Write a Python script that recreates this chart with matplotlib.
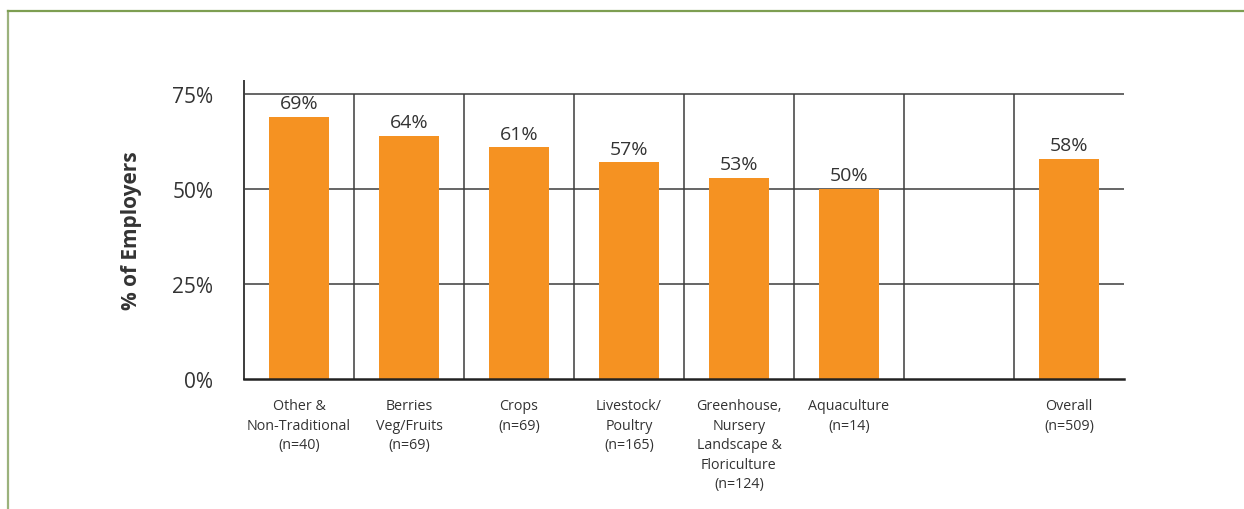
import matplotlib.pyplot as plt
from matplotlib.lines import Line2D

plt.rcParams.update({
    "font.family": ["Open Sans", "DejaVu Sans"],
    "text.color": "#333333",
})

CATEGORIES = [
    "Other &\nNon-Traditional\n(n=40)",
    "Berries\nVeg/Fruits\n(n=69)",
    "Crops\n(n=69)",
    "Livestock/\nPoultry\n(n=165)",
    "Greenhouse,\nNursery\nLandscape &\nFloriculture\n(n=124)",
    "Aquaculture\n(n=14)",
    "",
    "Overall\n(n=509)",
]
VALUES = [69, 64, 61, 57, 53, 50, None, 58]
Y_TICKS = [0, 25, 50, 75]
Y_TICK_LABELS = ["0%", "25%", "50%", "75%"]

BAR_COLOR = "#F59222"
LINE_COLOR = "#3c3c3c"
FRAME_COLOR = "#7d9e52"

fig = plt.figure(figsize=(12.44, 5.10), dpi=100)

# green page frame along the top and left edges
fig.add_artist(Line2D([8 / 1244, 8 / 1244], [0, 1 - 12 / 510],
                      transform=fig.transFigure, color="#9bb27c", lw=1.6))
fig.add_artist(Line2D([8 / 1244, 1], [1 - 12 / 510, 1 - 12 / 510],
                      transform=fig.transFigure, color=FRAME_COLOR, lw=1.6))

ax = fig.add_axes([244 / 1244, 1 - 380 / 510, 880 / 1244, 298 / 510])

n = len(CATEGORIES)
xs = list(range(n))
for x, v in zip(xs, VALUES):
    if v is None:
        continue
    ax.bar(x, v, width=0.55, color=BAR_COLOR, zorder=2)
    ax.text(x, v + 1.2, f"{v}%", ha="center", va="bottom", fontsize=14,
            color="#333333")

# horizontal grid at the tick levels, vertical separators between groups
for y in Y_TICKS[1:]:
    ax.axhline(y, color=LINE_COLOR, lw=1.1, zorder=1)
for k in range(1, n):
    ax.vlines(k - 0.5, 0, 75, color=LINE_COLOR, lw=1.1, zorder=1)

ax.set_xlim(-0.5, n - 0.5)
ax.set_ylim(0, 78.4)
ax.set_yticks(Y_TICKS)
ax.set_yticklabels(Y_TICK_LABELS, fontsize=15, color="#333333")
ax.tick_params(axis="y", length=0, pad=22)
ax.set_xticks(xs)
ax.set_xticklabels(CATEGORIES, fontsize=10.3, color="#333333",
                   linespacing=1.4, va="top")
ax.tick_params(axis="x", length=0, pad=14)

for side in ("top", "right"):
    ax.spines[side].set_visible(False)
ax.spines["left"].set_color(LINE_COLOR)
ax.spines["left"].set_linewidth(1.4)
ax.spines["bottom"].set_color("#222222")
ax.spines["bottom"].set_linewidth(1.8)

ax.set_ylabel("% of Employers", fontsize=15, fontweight="bold",
              color="#333333", labelpad=22)

fig.savefig("out.png", dpi=100)
